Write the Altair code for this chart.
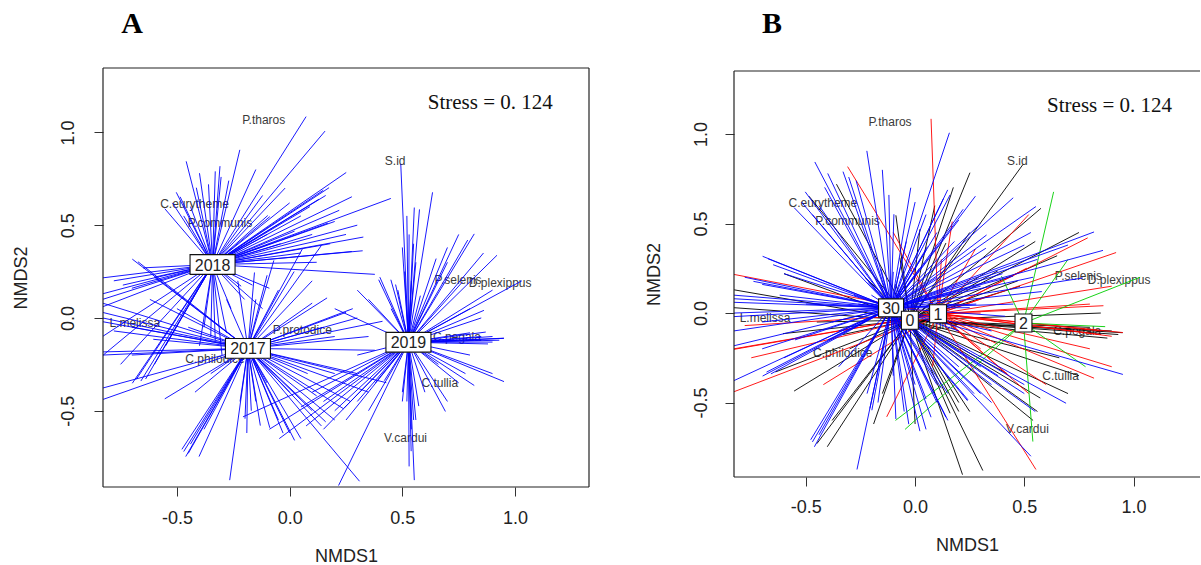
import altair as alt
import pandas as pd

# ---------------- data ----------------
years = ["2017", "2018", "2019"]
year_cx = [-0.185, -0.342, 0.527]
year_cy = [-0.164, 0.288, -0.131]

groups = ["0", "1", "2", "30"]
grp_cx = [-0.024, 0.105, 0.496, -0.110]
grp_cy = [-0.040, -0.004, -0.056, 0.029]
grp_colors = ["#000000", "#FF0000", "#00CD00", "#0000FF"]

# site scores (NMDS1, NMDS2, group of panel B), listed by year
sites_2018 = [
    (-0.459, 0.844, "30"), (-0.414, 0.702, "30"), (-0.503, 0.677, "30"), (-0.486, 0.653, "0"), (-0.554, 0.589, "30"),
    (-0.309, 0.818, "1"), (-0.304, 0.760, "30"), (-0.221, 0.906, "30"), (-0.40, 0.78, "30"), (-0.33, 0.79, "30"),
    (-0.36, 0.72, "0"), (-0.44, 0.60, "30"), (-0.52, 0.62, "30"), (-0.47, 0.55, "30"), (-0.27, 0.74, "30"),
    (0.073, 1.085, "1"), (0.157, 1.007, "30"), (0.251, 0.784, "0"), (0.175, 0.702, "0"), (0.149, 0.688, "30"),
    (0.276, 0.653, "30"), (0.449, 0.644, "30"), (0.170, 0.511, "1"), (0.022, 0.468, "0"), (0.327, 0.436, "30"),
    (0.324, 0.362, "30"), (0.276, 0.358, "1"), (-0.097, 0.552, "30"), (-0.088, 0.546, "0"), (-0.12, 0.66, "30"),
    (0.00, 0.62, "30"), (0.09, 0.60, "0"), (0.22, 0.58, "30"), (-0.04, 0.40, "30"), (0.12, 0.30, "1"),
    (0.378, 0.235, "0"), (0.16, 0.66, "30"), (0.13, 0.64, "30"), (0.20, 0.52, "30"), (0.05, 0.55, "30"),
    (0.25, 0.45, "0"), (0.10, 0.45, "30"), (-0.02, 0.70, "30"), (-0.15, 0.80, "30"), (0.30, 0.50, "30"),
    (0.05, 0.35, "30"), (0.18, 0.40, "30"), (-0.10, 0.45, "1"),
    (-0.83, 0.216, "1"), (-0.74, 0.177, "30"), (-0.83, 0.10, "30"), (-0.83, 0.06, "30"), (-0.83, 0.13, "0"),
    (-0.70, 0.16, "30"), (-0.60, 0.22, "30"), (-0.65, 0.27, "30"), (-0.78, 0.20, "30"),
    (-0.83, -0.203, "1"), (-0.698, -0.352, "30"), (-0.639, -0.329, "0"), (-0.68, -0.33, "30"), (-0.60, -0.25, "30"),
    (-0.55, -0.15, "30"), (-0.83, -0.10, "30"), (-0.75, -0.25, "1"), (-0.66, -0.34, "30"),
    (-0.40, -0.15, "30"), (-0.35, -0.10, "30"), (-0.30, -0.20, "0"), (-0.26, 0.05, "30"), (-0.38, -0.05, "30"),
    (-0.33, -0.12, "0"), (-0.28, -0.08, "30"),
    (-0.215, 0.171, "30"), (-0.165, 0.177, "30"), (-0.12, 0.05, "30"), (-0.20, 0.10, "30"), (-0.09, 0.16, "0"),
]

sites_2017 = [
    (-0.698, 0.317, "30"), (-0.673, 0.303, "30"), (-0.60, 0.22, "0"), (-0.83, 0.08, "30"), (-0.83, 0.03, "0"),
    (-0.78, -0.07, "1"), (-0.83, -0.183, "30"), (-0.83, -0.378, "30"), (-0.83, -0.44, "1"), (-0.605, -0.115, "0"),
    (-0.83, 0.00, "30"), (-0.83, -0.02, "30"), (-0.70, -0.05, "30"), (-0.50, 0.05, "30"), (-0.45, -0.05, "0"),
    (-0.62, 0.10, "30"), (-0.83, -0.20, "1"), (-0.70, -0.20, "30"),
    (-0.554, -0.436, "0"), (-0.478, -0.708, "30"), (-0.461, -0.747, "30"), (-0.45, -0.73, "0"), (-0.402, -0.747, "0"),
    (-0.35, -0.30, "30"), (-0.42, -0.40, "1"), (-0.47, -0.72, "30"), (-0.44, -0.68, "30"), (-0.38, -0.60, "0"),
    (-0.266, -0.874, "30"), (-0.198, -0.543, "30"), (-0.19, -0.62, "0"), (-0.13, -0.58, "1"), (-0.088, -0.592, "30"),
    (-0.029, -0.621, "30"), (0.00, -0.62, "0"), (0.022, -0.66, "30"), (0.00, -0.40, "30"), (-0.10, -0.35, "30"),
    (-0.17, -0.50, "30"), (-0.15, -0.45, "0"), (-0.05, -0.55, "30"), (0.05, -0.65, "30"), (-0.22, -0.45, "30"),
    (0.141, -0.582, "30"), (0.16, -0.56, "0"), (0.24, -0.49, "30"), (0.31, -0.88, "0"), (0.429, -0.349, "1"),
    (0.27, -0.45, "30"), (0.08, -0.30, "1"), (0.20, -0.30, "30"), (0.10, -0.50, "30"), (0.20, -0.55, "0"),
    (0.35, -0.40, "30"), (0.30, -0.30, "30"), (0.12, -0.42, "30"),
    (0.378, -0.174, "1"), (0.412, -0.018, "30"), (0.30, 0.00, "1"), (0.25, 0.03, "30"), (0.166, 0.108, "30"),
    (0.10, 0.08, "0"), (0.20, -0.10, "30"), (0.35, -0.10, "30"), (0.15, -0.05, "0"), (0.28, 0.05, "30"),
    (0.056, 0.371, "30"), (0.141, 0.391, "0"), (0.02, 0.25, "30"), (-0.07, 0.31, "0"), (-0.10, 0.23, "30"),
    (-0.156, 0.245, "30"), (-0.23, 0.20, "0"), (-0.28, 0.10, "30"), (-0.05, 0.15, "30"), (-0.15, 0.10, "30"),
    (0.10, 0.20, "30"),
]

sites_2019 = [
    (0.493, 0.829, "0"), (0.553, 0.595, "30"), (0.576, 0.585, "0"), (0.634, 0.677, "2"), (0.52, 0.55, "1"),
    (0.53, 0.45, "30"), (0.55, 0.40, "0"), (0.50, 0.38, "30"), (0.56, 0.30, "30"), (0.51, 0.25, "1"),
    (0.54, 0.20, "30"), (0.48, 0.15, "0"), (0.45, 0.05, "30"), (0.58, 0.12, "30"),
    (0.819, 0.453, "30"), (0.79, 0.42, "1"), (0.920, 0.338, "1"), (0.70, 0.30, "2"), (0.768, 0.196, "30"),
    (1.03, 0.20, "2"), (0.862, 0.041, "1"), (0.86, 0.35, "30"), (0.75, 0.45, "0"), (0.80, 0.05, "1"),
    (0.85, 0.00, "0"), (0.70, 0.38, "30"), (0.65, 0.32, "0"), (0.90, 0.15, "1"),
    (0.395, 0.206, "2"), (0.449, 0.206, "30"), (0.40, 0.22, "30"), (0.47, 0.18, "0"), (0.35, 0.10, "1"),
    (0.20, 0.05, "30"), (0.30, 0.15, "30"),
    (0.951, -0.109, "1"), (0.90, -0.10, "0"), (0.87, -0.076, "2"), (0.95, -0.11, "0"), (0.93, -0.12, "0"),
    (0.90, -0.13, "1"), (0.85, -0.10, "1"), (0.88, -0.14, "0"), (0.80, -0.08, "0"), (0.85, -0.12, "1"),
    (0.80, -0.20, "1"), (0.66, -0.25, "0"),
    (0.951, -0.343, "30"), (0.819, -0.364, "1"), (0.78, -0.30, "2"), (0.691, -0.504, "30"), (0.90, -0.30, "1"),
    (0.70, -0.45, "0"), (0.75, -0.35, "0"), (0.60, -0.40, "1"),
    (0.573, -0.475, "0"), (0.539, -0.718, "2"), (0.553, -0.874, "1"), (0.50, -0.45, "30"), (0.56, -0.55, "0"),
    (0.52, -0.45, "1"), (0.54, -0.60, "0"), (0.55, -0.55, "30"), (0.53, -0.80, "30"), (0.50, -0.40, "30"),
    (0.217, -0.903, "0"), (-0.046, -0.65, "2"), (-0.09, -0.60, "2"), (0.073, -0.582, "30"), (0.242, -0.485, "30"),
    (0.42, -0.338, "0"), (-0.207, -0.533, "30"), (0.30, -0.20, "1"), (0.10, -0.40, "30"), (0.15, -0.45, "30"),
    (0.20, -0.50, "0"), (0.05, -0.48, "30"), (0.30, -0.45, "30"), (0.35, -0.50, "30"), (0.25, -0.55, "0"),
    (0.15, -0.60, "30"), (0.38, -0.35, "30"),
]

species = ["P.tharos", "S.id", "C.eurytheme", "P.communis", "P.selenis", "D.plexippus",
           "L.melissa", "P.protodice", "C.philodice", "C.pegala", "C.tullia", "V.cardui"]
species_x = [-0.115, 0.468, -0.422, -0.309, 0.747, 0.934, -0.687, 0.056, -0.331, 0.742, 0.666, 0.514]
species_y = [1.067, 0.848, 0.612, 0.513, 0.206, 0.186, -0.027, -0.066, -0.222, -0.100, -0.352, -0.646]

stress_text = "Stress = 0. 124"
x_ticks = [-0.5, 0.0, 0.5, 1.0]
y_ticks = [-0.5, 0.0, 0.5, 1.0]

# ---------------- tables ----------------
rows = []
for yr, lst in [("2018", sites_2018), ("2017", sites_2017), ("2019", sites_2019)]:
    for x, y, g in lst:
        rows.append({"x": x, "y": y, "year": yr, "grp": g})
sites = pd.DataFrame(rows)
ycent = pd.DataFrame({"year": years, "cx": year_cx, "cy": year_cy})
gcent = pd.DataFrame({"grp": groups, "gx": grp_cx, "gy": grp_cy})
sites = sites.merge(ycent, on="year").merge(gcent, on="grp")
sites["gorder"] = sites["grp"].map({g: i for i, g in enumerate(groups)})
sites = sites.sort_values("gorder", kind="stable").reset_index(drop=True)
spec_df = pd.DataFrame({"name": species, "x": species_x, "y": species_y})
stress_df = pd.DataFrame({"t": [stress_text], "x": [0.89], "y": [1.125]})
one = pd.DataFrame({"a": [0]})

FONT = "Liberation Sans"
SERIF = "Liberation Serif"
LBL = "datum.value < 0 ? '-' + format(-datum.value, '.1f') : format(datum.value, '.1f')"
EDGE = "#222222"


def make_axes(W, H, xlab_pad, ylab_pad, xt_y, yt_x, top_off):
    xax = alt.Axis(values=x_ticks, labelExpr=LBL, domain=False, grid=False, ticks=True,
                   tickSize=9, tickColor="#333333", tickWidth=1,
                   labelFont=FONT, labelFontSize=18, labelColor="#222222",
                   labelPadding=xlab_pad, labelBaseline="middle", labelFlush=False,
                   title="NMDS1", titleFont=FONT, titleFontSize=18, titleFontWeight="normal",
                   titleColor="#222222", titleY=xt_y, titleX=W / 2, titleBaseline="middle")
    yax = alt.Axis(values=y_ticks, labelExpr=LBL, domain=False, grid=False, ticks=True,
                   tickSize=9, tickColor="#333333", tickWidth=1,
                   labelFont=FONT, labelFontSize=18, labelColor="#222222",
                   labelPadding=ylab_pad, labelAngle=270, labelAlign="center",
                   labelBaseline="middle", labelFlush=False,
                   title="NMDS2", titleFont=FONT, titleFontSize=18, titleFontWeight="normal",
                   titleColor="#222222", titleX=yt_x, titleY=(top_off + H) / 2,
                   titleAngle=270, titleBaseline="middle", titleAlign="center")
    return xax, yax


def borders(W, H, top_off, right=True):
    c = alt.Chart(one)
    parts = [
        c.mark_rule(color=EDGE, strokeWidth=1.2).encode(x=alt.value(0), y=alt.value(top_off), y2=alt.value(H)),
        c.mark_rule(color=EDGE, strokeWidth=1.2).encode(x=alt.value(0), x2=alt.value(W), y=alt.value(top_off)),
        c.mark_rule(color=EDGE, strokeWidth=1.2).encode(x=alt.value(0), x2=alt.value(W), y=alt.value(H)),
    ]
    if right:
        parts.append(c.mark_rule(color=EDGE, strokeWidth=1.2).encode(
            x=alt.value(W), y=alt.value(top_off), y2=alt.value(H)))
    return parts


def centroid_boxes(df, xs, ys, shape, size):
    return alt.Chart(df).mark_point(shape=shape, size=size, filled=True, fill="white",
                                    stroke="#111111", strokeWidth=1.1, opacity=1).encode(
        x=alt.X("x:Q", scale=xs), y=alt.Y("y:Q", scale=ys))


def centroid_text(df, xs, ys):
    return alt.Chart(df).mark_text(font=FONT, fontSize=16, color="#222222",
                                   baseline="middle", align="center", dy=1).encode(
        x=alt.X("x:Q", scale=xs), y=alt.Y("y:Q", scale=ys), text="label:N")


def species_text(xs, ys, xax, yax):
    return alt.Chart(spec_df).mark_text(font=FONT, fontSize=12, color="#3a3a3a",
                                        align="center", baseline="middle").encode(
        x=alt.X("x:Q", scale=xs, axis=xax), y=alt.Y("y:Q", scale=ys, axis=yax), text="name:N")


def stress(xs, ys):
    return alt.Chart(stress_df).mark_text(font=SERIF, fontSize=21, color="#111111",
                                          align="center", baseline="alphabetic").encode(
        x=alt.X("x:Q", scale=xs), y=alt.Y("y:Q", scale=ys), text="t:N")


# ---------------- panel A ----------------
WA, HA = 486, 419
xsA = alt.Scale(domain=[-0.828, 1.328], nice=False, zero=False)
ysA = alt.Scale(domain=[-0.911, 1.347], nice=False, zero=False)
xaxA, yaxA = make_axes(WA, HA, 22, 26, 69, -82, 0)
spA = species_text(xsA, ysA, xaxA, yaxA)
linesA = alt.Chart(sites).mark_rule(color="#0000FF", strokeWidth=1, opacity=0.9, clip=True).encode(
    x=alt.X("cx:Q", scale=xsA), y=alt.Y("cy:Q", scale=ysA), x2="x:Q", y2="y:Q")
yc_df = pd.DataFrame({"label": years, "x": year_cx, "y": year_cy})
boxA = centroid_boxes(yc_df, xsA, ysA, "M-1,-0.44L1,-0.44L1,0.44L-1,0.44Z", 2025)
txtA = centroid_text(yc_df, xsA, ysA)
letterA = alt.Chart(one).mark_text(font=SERIF, fontSize=30, fontWeight="bold", color="#000000",
                                   align="center", baseline="alphabetic").encode(
    x=alt.value(29), y=alt.value(-35), text=alt.value("A"))
# invisible frame that fixes the page's top-left corner and bottom edge
frameA = [
    alt.Chart(one).mark_rule(strokeWidth=0.01, opacity=0).encode(
        x=alt.value(-103), x2=alt.value(0), y=alt.value(-68)),
    alt.Chart(one).mark_rule(strokeWidth=0.01, opacity=0).encode(
        x=alt.value(-103), x2=alt.value(0), y=alt.value(565 - 68 - 1)),
]
panelA = alt.layer(spA, linesA, boxA, txtA, stress(xsA, ysA), letterA,
                   *borders(WA, HA, 0), *frameA).properties(width=WA, height=HA)

# ---------------- panel B ----------------
WB, HB = 466, 409
xsB = alt.Scale(domain=[-0.829, 1.304], nice=False, zero=False)
ysB = alt.Scale(domain=[-0.916, 1.369], nice=False, zero=False)
xaxB, yaxB = make_axes(WB, HB, 21, 24, 68, -80, 3)
spB = species_text(xsB, ysB, xaxB, yaxB)
colB = alt.Color("grp:N", scale=alt.Scale(domain=groups, range=grp_colors), legend=None)
linesB = alt.Chart(sites).mark_rule(strokeWidth=1, opacity=0.9, clip=True).encode(
    x=alt.X("gx:Q", scale=xsB), y=alt.Y("gy:Q", scale=ysB),
    x2="x:Q", y2="y:Q", color=colB, order=alt.Order("gorder:Q"))
gc_df = pd.DataFrame({"label": groups, "x": grp_cx, "y": grp_cy})
boxB2 = centroid_boxes(gc_df[gc_df["label"].str.len() == 2], xsB, ysB,
                       "M-1,-0.72L1,-0.72L1,0.72L-1,0.72Z", 625)
boxB1 = centroid_boxes(gc_df[gc_df["label"].str.len() == 1], xsB, ysB,
                       "M-0.94,-1L0.94,-1L0.94,1L-0.94,1Z", 324)
txtB = centroid_text(gc_df, xsB, ysB)
letterB = alt.Chart(one).mark_text(font=SERIF, fontSize=30, fontWeight="bold", color="#000000",
                                   align="center", baseline="alphabetic").encode(
    x=alt.value(38), y=alt.value(-35), text=alt.value("B"))
panelB = alt.layer(spB, linesB, boxB2, boxB1, txtB, stress(xsB, ysB), letterB,
                   *borders(WB, HB, 3, right=False)).properties(width=WB, height=HB)

chart = alt.hconcat(panelA, panelB, spacing=145, bounds="flush").properties(
    padding=0,
    autosize=alt.AutoSizeParams(type="pad"),
    background="white",
).configure_view(stroke=None)

chart.save("out.html", embed_options={"renderer": "svg", "actions": False})
